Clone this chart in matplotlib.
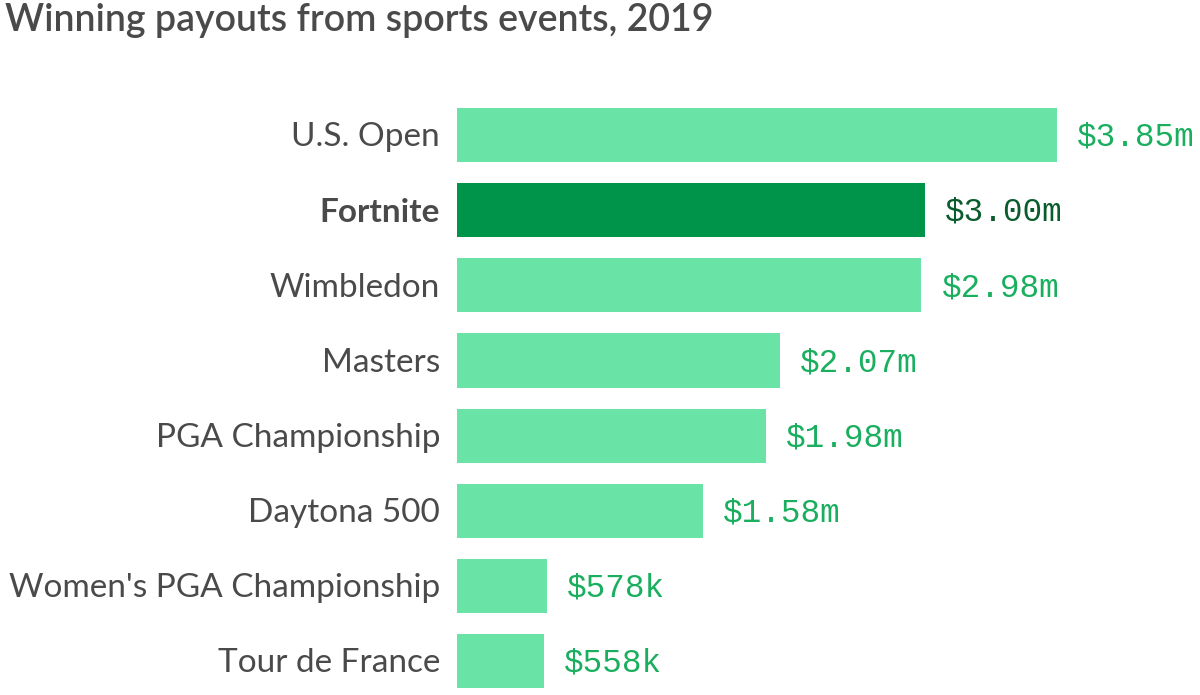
import matplotlib.pyplot as plt

events = ["U.S. Open", "Fortnite", "Wimbledon", "Masters", "PGA Championship",
          "Daytona 500", "Women's PGA Championship", "Tour de France"]
payouts = [3.85, 3.00, 2.98, 2.07, 1.98, 1.58, 0.578, 0.558]
payout_labels = ["$3.85m", "$3.00m", "$2.98m", "$2.07m", "$1.98m", "$1.58m", "$578k", "$558k"]
highlight = "Fortnite"

light_bar = "#69e3a6"
dark_bar = "#00934a"
light_text = "#1aae5f"
dark_text = "#0b5c2c"
gray = "#4a4a4a"

fig = plt.figure(figsize=(12, 6.95), dpi=100)
ax = fig.add_axes([457 / 1200, 0.0, 743 / 1200, 0.86])

ypos = list(range(len(events)))
colors = [dark_bar if e == highlight else light_bar for e in events]
ax.barh(ypos, payouts, height=0.72, color=colors)

px = 3.85 / 600  # data units per pixel
for y, v, lab, e in zip(ypos, payouts, payout_labels, events):
    ax.text(v + 20 * px, y + 0.03, lab, va="center", ha="left",
            family="Liberation Mono", fontsize=23.5,
            color=dark_text if e == highlight else light_text)
    ax.text(-17 * px, y + 0.03, e, va="center", ha="right",
            family="Lato", fontsize=24, color=gray,
            fontweight="bold" if e == highlight else "normal")

ax.set_xlim(0, 743 * px)
ax.set_ylim(7.45, -0.5)
ax.axis("off")

fig.text(5 / 1200, 1 - 20 / 695, "Winning payouts from sports events, 2019",
         family="Lato", fontsize=27, fontweight="semibold", color=gray,
         va="center", ha="left")

fig.savefig("out.png", dpi=100)
